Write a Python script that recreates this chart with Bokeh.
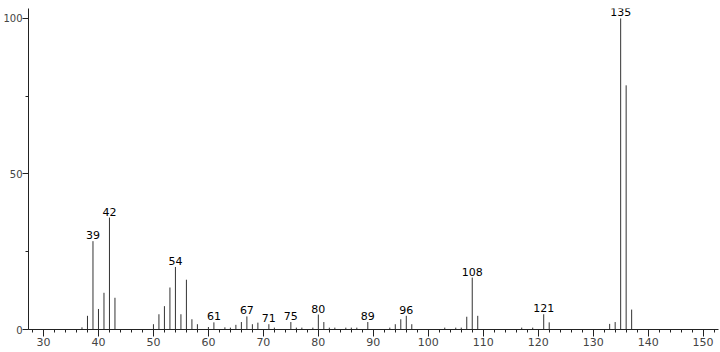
from bokeh.plotting import figure
from bokeh.models import Range1d, SingleIntervalTicker, ColumnDataSource, LabelSet
from bokeh.core.properties import value
from bokeh.embed import file_html
from bokeh.resources import INLINE

# m/z values and relative intensities
mz = [37, 38, 39, 40, 41, 42, 43,
      50, 51, 52, 53, 54, 55, 56, 57, 58,
      60, 61, 63, 64, 65, 66, 67, 68, 69, 71, 72,
      75, 76, 77, 79, 80, 81, 82, 83, 85, 86, 87, 89,
      93, 94, 95, 96, 97,
      103, 105, 106, 107, 108, 109,
      117, 119, 121, 122,
      133, 134, 135, 136, 137]
intensity = [0.7, 4.4, 28.4, 6.6, 11.8, 36.0, 10.2,
             1.7, 4.9, 7.5, 13.5, 20.1, 4.9, 16.0, 3.3, 1.7,
             0.8, 2.3, 0.7, 0.6, 1.5, 2.4, 4.2, 1.7, 2.2, 1.7, 0.6,
             2.4, 0.6, 0.6, 0.6, 4.8, 2.4, 0.6, 0.6, 0.6, 0.6, 0.6, 2.4,
             0.6, 1.7, 3.3, 4.4, 1.7,
             0.6, 0.6, 0.6, 4.1, 16.7, 4.4,
             0.6, 0.6, 4.9, 2.3,
             1.8, 2.4, 100.0, 78.5, 6.4]

# labelled peaks
label_mz = [39, 42, 54, 61, 67, 71, 75, 80, 89, 96, 108, 121, 135]
label_text = [str(m) for m in label_mz]

lookup = dict(zip(mz, intensity))
label_y = [lookup[m] for m in label_mz]

FONT = "DejaVu Sans"

W, H = 720, 352
p = figure(width=W, height=H, output_backend="svg", toolbar_location=None,
           x_range=Range1d(27.27, 152.8), y_range=Range1d(0, 103.2),
           min_border_left=26, min_border_right=2, min_border_top=8, min_border_bottom=23)
p.outline_line_color = None
p.grid.visible = False
p.background_fill_color = "white"
p.border_fill_color = "white"

zeros = [0] * len(mz)
p.segment(x0=mz, y0=zeros, x1=mz, y1=intensity, line_color="#333333", line_width=1)

src = ColumnDataSource(dict(x=label_mz, y=label_y, t=label_text))
labels = LabelSet(x="x", y="y", text="t", source=src, text_align="center",
                  text_baseline="bottom", y_offset=2, text_font=value(FONT),
                  text_font_size=value("11px"), text_color="black")
p.add_layout(labels)

xa = p.xaxis[0]
xa.ticker = SingleIntervalTicker(interval=10, num_minor_ticks=5)
xa.major_tick_in = 0
xa.major_tick_out = 7
xa.minor_tick_in = 0
xa.minor_tick_out = 3
xa.major_label_standoff = 1
xa.major_label_text_font = FONT
xa.major_label_text_font_size = "11px"
xa.axis_line_color = "#222222"
xa.major_tick_line_color = "#222222"
xa.minor_tick_line_color = "#222222"

ya = p.yaxis[0]
ya.ticker = SingleIntervalTicker(interval=50, num_minor_ticks=2)
ya.major_tick_in = 0
ya.major_tick_out = 6
ya.minor_tick_in = 0
ya.minor_tick_out = 3
ya.major_label_standoff = 0
ya.major_label_text_font = FONT
ya.major_label_text_font_size = "10px"
ya.axis_line_color = "#222222"
ya.major_tick_line_color = "#222222"
ya.minor_tick_line_color = "#222222"

open("out.html", "w").write(file_html(p, INLINE))
